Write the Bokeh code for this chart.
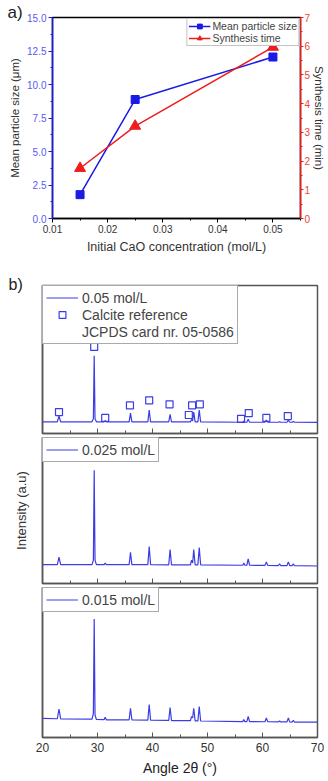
from bokeh.plotting import figure
from bokeh.models import (Range1d, LinearAxis, FixedTicker, Legend, LegendItem,
                          Title, NumeralTickFormatter, CustomLabelingPolicy)
from bokeh.layouts import column
from bokeh.embed import file_html
from bokeh.resources import INLINE

# ---------------- data: panel a ----------------
cao_conc = [0.015, 0.025, 0.05]
mean_size = [1.78, 8.88, 12.05]
synth_time = [1.75, 3.22, 5.97]

# ---------------- data: panel b (XRD) ----------------
xrd_angle = [20, 22.7, 23.0, 23.3, 29.0, 29.25, 29.4, 29.55, 29.8, 31.2, 31.4, 31.6,
             35.75, 36.0, 36.25, 39.15, 39.4, 39.65, 42.95, 43.2, 43.45,
             46.9, 47.1, 47.3, 47.5, 47.75, 48.25, 48.5, 48.75,
             56.4, 56.6, 56.8, 57.15, 57.4, 57.65, 60.45, 60.7, 60.95,
             62.9, 63.1, 63.3, 64.45, 64.7, 64.95, 65.4, 65.6, 65.8, 70]
int_005 = [7.9, 7.9, 11.8, 7.9, 7.9, 10.0, 52.6, 10.0, 7.9, 7.9, 8.6, 7.9,
           7.9, 13.8, 7.9, 7.9, 15.8, 7.9, 7.9, 13.0, 7.9,
           7.9, 9.5, 8.5, 14.5, 7.9, 7.9, 15.8, 7.9,
           7.6, 8.4, 7.6, 7.6, 9.6, 7.6, 7.6, 9.0, 7.6,
           7.6, 8.0, 7.6, 7.6, 9.0, 7.6, 7.6, 8.2, 7.6, 7.5]
int_0025 = [12.9, 12.9, 18.0, 12.9, 12.9, 16.0, 77.5, 16.0, 12.9, 12.9, 14.0, 12.9,
            12.9, 21.3, 12.9, 12.9, 25.3, 12.9, 12.8, 23.3, 12.8,
            12.8, 16.0, 14.0, 23.3, 12.8, 12.8, 24.7, 12.8,
            12.5, 14.0, 12.5, 12.5, 16.9, 12.5, 12.4, 14.7, 12.4,
            12.3, 13.5, 12.3, 12.3, 14.8, 12.3, 12.3, 13.5, 12.2, 12.0]
int_0015 = [12.7, 12.5, 19.0, 12.4, 12.2, 16.0, 79.0, 15.0, 12.0, 11.9, 13.5, 11.8,
            11.8, 19.5, 11.7, 11.6, 22.0, 11.5, 11.4, 20.0, 11.3,
            11.2, 14.0, 13.0, 19.5, 11.1, 11.1, 20.7, 11.0,
            10.6, 12.0, 10.6, 10.6, 14.0, 10.6, 10.5, 13.0, 10.5,
            10.4, 11.0, 10.4, 10.4, 13.0, 10.4, 10.3, 11.5, 10.3, 10.2]
ref_angle = [23.0, 29.4, 31.4, 35.9, 39.4, 43.1, 46.6, 47.2, 48.6, 56.1, 57.5, 60.7, 64.6]
ref_level = [14.5, 58.5, 10.5, 19.0, 22.4, 19.7, 12.5, 19.0, 19.7, 9.9, 13.8, 10.5, 11.8]

x_ticks_a = [0.01, 0.02, 0.03, 0.04, 0.05]
y_ticks_left = [0, 2.5, 5, 7.5, 10, 12.5, 15]
y_ticks_right = [0, 1, 2, 3, 4, 5, 6, 7]
x_ticks_b = [20, 30, 40, 50, 60, 70]

FONT = "Liberation Sans"
BLUE = "#1a1ae6"
RED = "#ee1c1c"
XRD = "#3c3ce6"
FRAME = "#555555"

# ---------------- panel a ----------------
pa = figure(width=328, height=262, output_backend="svg", toolbar_location=None,
            x_range=Range1d(0.01, 0.055), y_range=Range1d(0, 15), frame_align=False,
            min_border_left=52, min_border_right=22, min_border_top=17, min_border_bottom=44)
pa.title = Title(text="a)", align="left", offset=-45, standoff=-8, vertical_align="bottom",
                 text_font=FONT, text_font_size="17px", text_font_style="normal",
                 text_color="#222222")
pa.extra_y_ranges = {"t": Range1d(0, 7)}
pa.grid.visible = False
pa.outline_line_color = "black"
pa.outline_line_width = 1.5

l1 = pa.line(cao_conc, mean_size, line_color=BLUE, line_width=1.5)
s1 = pa.scatter(cao_conc, mean_size, marker="square", size=8, fill_color=BLUE, line_color=BLUE)
l2 = pa.line(cao_conc, synth_time, line_color=RED, line_width=1.5, y_range_name="t")
s2 = pa.scatter(cao_conc, synth_time, marker="triangle", size=11, fill_color=RED, line_color=RED,
                y_range_name="t")

xa = pa.xaxis[0]
xa.ticker = FixedTicker(ticks=x_ticks_a, minor_ticks=[0.015, 0.025, 0.035, 0.045, 0.055])
xa.axis_label = "Initial CaO concentration (mol/L)"
xa.formatter = NumeralTickFormatter(format="0.00")
ya = pa.yaxis[0]
ya.ticker = FixedTicker(ticks=y_ticks_left, minor_ticks=[1.25, 3.75, 6.25, 8.75, 11.25, 13.75])
ya.formatter = NumeralTickFormatter(format="0.0")
ya.axis_label = "Mean particle size (μm)"
ya.axis_line_color = BLUE
ya.axis_line_width = 1.5
ya.major_tick_line_color = BLUE
ya.minor_tick_line_color = BLUE
ya.major_label_text_color = "#5a5af0"

ra = LinearAxis(y_range_name="t", axis_label="Synthesis time (min)")
ra.ticker = FixedTicker(ticks=y_ticks_right, minor_ticks=[0.5, 1.5, 2.5, 3.5, 4.5, 5.5, 6.5])
ra.axis_line_color = RED
ra.axis_line_width = 1.5
ra.major_tick_line_color = RED
ra.minor_tick_line_color = RED
ra.major_label_text_color = "#f04040"
pa.add_layout(ra, "right")

for ax in (xa, ya, ra):
    ax.major_label_text_font = FONT
    ax.major_label_text_font_size = "10px"
    ax.axis_label_text_font = FONT
    ax.axis_label_text_font_style = "normal"
    ax.axis_label_text_color = "#333333"
    ax.major_tick_out = 4
    ax.major_tick_in = 0
    ax.minor_tick_out = 2
    ax.minor_tick_in = 0
    ax.major_label_standoff = 2
xa.axis_label_text_font_size = "12.5px"
ya.axis_label_text_font_size = "11.5px"
ra.axis_label_text_font_size = "11.5px"
xa.axis_line_color = "black"
xa.axis_line_width = 1.5
xa.major_label_text_color = "#333333"
ra.axis_label_standoff = 0
ra.major_label_standoff = 1
ra.major_tick_out = 3
ya.axis_label_standoff = 3
xa.axis_label_standoff = 4

leg_a = Legend(items=[LegendItem(label="Mean particle size", renderers=[l1, s1]),
                      LegendItem(label="Synthesis time", renderers=[l2, s2])],
               location="top_right", margin=1, padding=1, spacing=0,
               label_text_font=FONT, label_text_font_size="10.5px",
               label_height=12, glyph_height=12, glyph_width=22, label_standoff=2,
               border_line_color="#888888", border_line_width=1,
               background_fill_alpha=1)
pa.add_layout(leg_a)

# ---------------- panel b ----------------
hide_labels = CustomLabelingPolicy(code="return new Set()")

def xrd_fig(height, top, bottom, last):
    p = figure(width=328, height=height, output_backend="svg", toolbar_location=None,
               x_range=Range1d(20, 70), y_range=Range1d(0, 100), frame_align=False,
               min_border_left=42, min_border_right=11, min_border_top=top,
               min_border_bottom=bottom)
    p.grid.visible = False
    p.outline_line_color = FRAME
    p.outline_line_width = 1.5
    ax = p.xaxis[0]
    ax.ticker = FixedTicker(ticks=x_ticks_b, minor_ticks=[25, 35, 45, 55, 65])
    ax.axis_line_color = FRAME
    ax.axis_line_width = 1.5
    ax.major_tick_line_color = FRAME
    ax.minor_tick_line_color = FRAME
    ax.major_tick_in = 5
    ax.major_tick_out = 0
    ax.minor_tick_in = 3
    ax.minor_tick_out = 0
    if last:
        ax.major_label_text_font = FONT
        ax.major_label_text_font_size = "12px"
        ax.major_label_text_color = "#333333"
        ax.major_label_standoff = 5
        ax.axis_label = "Angle 2θ (°)"
        ax.axis_label_text_font = FONT
        ax.axis_label_text_font_size = "14px"
        ax.axis_label_text_font_style = "normal"
        ax.axis_label_text_color = "#222222"
        ax.axis_label_standoff = 5
    else:
        ax.major_label_policy = hide_labels
        ax.major_label_text_font_size = "1px"
        ax.major_label_standoff = 0
    yax = p.yaxis[0]
    yax.ticker = FixedTicker(ticks=[])
    yax.major_tick_line_color = None
    yax.minor_tick_line_color = None
    yax.major_label_standoff = 0
    yax.axis_line_color = FRAME
    yax.axis_line_width = 1.5
    return p

def xrd_legend(p, items, rows_h):
    leg = Legend(items=items, location="top_left", margin=0, padding=3, spacing=0,
                 label_text_font=FONT, label_text_font_size="14px",
                 label_height=rows_h, glyph_height=rows_h, glyph_width=32, label_standoff=4,
                 border_line_color=FRAME, border_line_width=1, background_fill_alpha=1)
    p.add_layout(leg)

pb1 = xrd_fig(175, 23, 0, False)
pb1.title = Title(text="b)", align="left", offset=-34, standoff=-15, vertical_align="bottom",
                  text_font=FONT, text_font_size="16px", text_font_style="normal",
                  text_color="#222222")
r1 = pb1.line(xrd_angle, int_005, line_color=XRD, line_width=1.2)
sq = pb1.scatter(ref_angle, ref_level, marker="square", size=7, fill_color=None,
                 line_color=XRD, line_width=1.2)
dummy = pb1.line([], [], line_alpha=0)
xrd_legend(pb1, [LegendItem(label="0.05 mol/L", renderers=[r1]),
                 LegendItem(label="Calcite reference", renderers=[sq]),
                 LegendItem(label="JCPDS card nr. 05-0586", renderers=[dummy])], 17)

pb2 = xrd_fig(150, 0, 0, False)
r2 = pb2.line(xrd_angle, int_0025, line_color=XRD, line_width=1.2)
xrd_legend(pb2, [LegendItem(label="0.025 mol/L", renderers=[r2])], 17)
pb2.yaxis[0].axis_label = "Intensity (a.u)"
pb2.yaxis[0].axis_label_text_font = FONT
pb2.yaxis[0].axis_label_text_font_size = "13px"
pb2.yaxis[0].axis_label_text_font_style = "normal"
pb2.yaxis[0].axis_label_text_color = "#333333"
pb2.yaxis[0].axis_label_standoff = 14

pb3 = xrd_fig(194, 0, 44, True)
r3 = pb3.line(xrd_angle, int_0015, line_color=XRD, line_width=1.2)
xrd_legend(pb3, [LegendItem(label="0.015 mol/L", renderers=[r3])], 17)

layout = column(pa, pb1, pb2, pb3, spacing=0)
open("out.html", "w").write(file_html(layout, INLINE))
